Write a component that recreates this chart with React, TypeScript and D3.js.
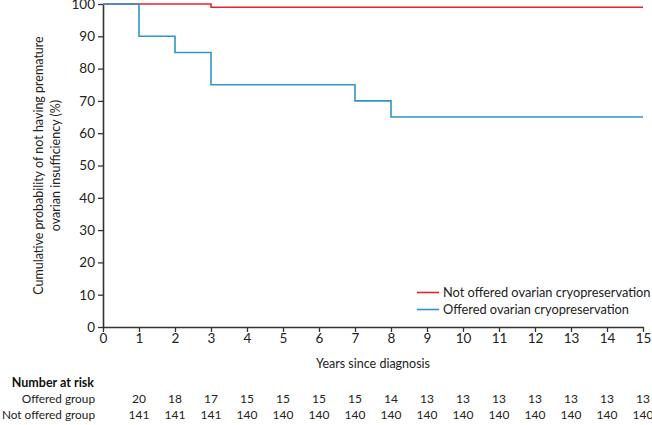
import * as d3 from 'd3';
import { useEffect, useRef } from 'react';

// Kaplan-Meier steps: [years, probability %]
const notOfferedSteps: [number, number][] = [[0, 100], [3, 100], [3, 99], [15, 99]];
const offeredSteps: [number, number][] = [
  [0, 100], [1, 100], [1, 90], [2, 90], [2, 85], [3, 85], [3, 75],
  [7, 75], [7, 70], [8, 70], [8, 65], [15, 65]
];

const xTicks = d3.range(0, 16);
const yTicks = d3.range(0, 101, 10);

const riskLabels = ['Offered group', 'Not offered group'];
const offeredAtRisk = [20, 18, 17, 15, 15, 15, 15, 14, 13, 13, 13, 13, 13, 13, 13];
const notOfferedAtRisk = [141, 141, 141, 140, 140, 140, 140, 140, 140, 140, 140, 140, 140, 140, 140];
const riskYears = d3.range(1, 16);

const seriesNames = ['Not offered ovarian cryopreservation', 'Offered ovarian cryopreservation'];
const seriesColors = ['#e8232b', '#2e97c6'];

export default function App() {
  const svgRef = useRef<SVGSVGElement>(null);
  const width = 652;
  const height = 425;

  useEffect(() => {
    if (!svgRef.current) return;
    const svg = d3.select(svgRef.current);
    svg.selectAll('*').remove();

    const x = d3.scaleLinear().domain([0, 15]).range([103, 643]);
    const y = d3.scaleLinear().domain([0, 100]).range([327, 4]);
    const axisColor = '#333';
    const textColor = '#222';

    // Y axis
    const yAxis = svg.append('g')
      .attr('transform', `translate(${x(0)},0)`)
      .call(d3.axisLeft(y).tickValues(yTicks).tickSize(5).tickSizeOuter(0));
    yAxis.select('.domain').attr('stroke', axisColor).attr('stroke-width', 1.6);
    yAxis.selectAll('.tick line').attr('stroke', axisColor).attr('stroke-width', 1.3);
    yAxis.selectAll('text')
      .attr('x', -8)
      .style('font-size', '13.5px')
      .style('fill', textColor);

    // X axis
    const xAxis = svg.append('g')
      .attr('transform', `translate(0,${y(0)})`)
      .call(d3.axisBottom(x).tickValues(xTicks).tickSize(5).tickSizeOuter(0));
    xAxis.select('.domain').attr('stroke', axisColor).attr('stroke-width', 1.6);
    xAxis.selectAll('.tick line').attr('stroke', axisColor).attr('stroke-width', 1.3);
    xAxis.selectAll('text')
      .attr('y', 6)
      .style('font-size', '13.5px')
      .style('fill', textColor);

    svg.selectAll('.tick text').style('font-family', 'Lato, sans-serif');

    // Curves
    const line = d3.line<[number, number]>().x(d => x(d[0])).y(d => y(d[1]));
    [notOfferedSteps, offeredSteps].forEach((steps, i) => {
      svg.append('path')
        .attr('d', line(steps) || '')
        .attr('fill', 'none')
        .attr('stroke', seriesColors[i])
        .attr('stroke-width', 1.6);
    });

    // Legend
    seriesNames.forEach((name, i) => {
      const ly = 292.5 + i * 17;
      svg.append('line')
        .attr('x1', 417).attr('x2', 439)
        .attr('y1', ly).attr('y2', ly)
        .attr('stroke', seriesColors[i])
        .attr('stroke-width', 1.6);
      svg.append('text')
        .attr('x', 443).attr('y', ly + 4.5)
        .style('font-size', '12.8px')
        .style('fill', textColor)
        .text(name);
    });

    // Axis titles
    svg.append('text')
      .attr('x', x(7.5)).attr('y', 368)
      .attr('text-anchor', 'middle')
      .style('font-size', '12.5px')
      .style('fill', textColor)
      .text('Years since diagnosis');

    const yTitle = svg.append('text')
      .attr('transform', `translate(43,${y(50)}) rotate(-90)`)
      .attr('text-anchor', 'middle')
      .style('font-size', '12.5px')
      .style('fill', textColor);
    yTitle.append('tspan').attr('x', 0).attr('dy', 0).text('Cumulative probability of not having premature');
    yTitle.append('tspan').attr('x', 0).attr('dy', 17).text('ovarian insufficiency (%)');

    // Number at risk table
    svg.append('text')
      .attr('x', 94).attr('y', 387)
      .attr('text-anchor', 'end')
      .style('font-size', '12.5px')
      .style('font-weight', 'bold')
      .style('fill', '#111')
      .text('Number at risk');

    [offeredAtRisk, notOfferedAtRisk].forEach((row, r) => {
      const ry = 403 + r * 15.5;
      svg.append('text')
        .attr('x', 95).attr('y', ry)
        .attr('text-anchor', 'end')
        .style('font-size', '11.8px')
        .style('fill', textColor)
        .text(riskLabels[r]);
      svg.selectAll(null)
        .data(row)
        .enter()
        .append('text')
        .attr('x', (d, i) => x(riskYears[i]))
        .attr('y', ry)
        .attr('text-anchor', 'middle')
        .style('font-size', '12px')
        .style('fill', textColor)
        .text(d => String(d));
    });
  }, []);

  return (
    <svg
      ref={svgRef}
      width={width}
      height={height}
      style={{ position: 'absolute', left: 0, top: 0, background: '#fff', fontFamily: 'Lato, sans-serif' }}
    ></svg>
  );
}
